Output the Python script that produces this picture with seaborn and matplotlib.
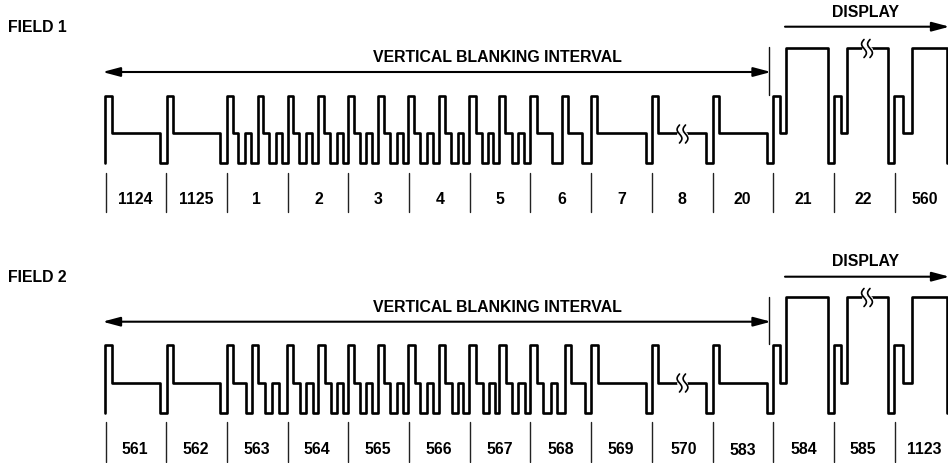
import matplotlib
matplotlib.use("Agg")
import matplotlib.pyplot as plt
import numpy as np
import seaborn as sns

# waveform edges, one level letter per segment between edges
# T = sync tip top, M = mid, L = low, B = display level
field1_edges = [105, 112, 160.5, 167, 173, 220.5, 227.5, 233, 238, 245, 251, 258, 263, 269, 275.7, 281.7,
                288, 293, 299.3, 306, 312.3, 318.3, 324, 330, 336.7, 342.7, 348.5, 354, 360, 366, 372.3,
                377.7, 384, 390, 396.7, 402.7, 408.3, 414, 420, 426.7, 432.7, 439, 445, 451, 457.7, 463.3,
                469.3, 475.7, 481.7, 488.3, 493.3, 499.3, 505, 511.7, 517.7, 524, 530, 536.7, 551.7, 561.7,
                568, 581.7, 591, 597.3, 646, 651.7, 657.7, 705.7, 712.7, 719, 766.7, 772.7, 780, 786,
                827.7, 834, 841, 847, 888, 894, 902.7, 911.7, 947.5]
field1_levels = ("TMLTML" + "TMLML" * 10 + "TML" * 5 + "TM" "BL" "TM" "BL" "TM" "B")

field2_edges = [105, 112, 160.5, 167, 173, 220.5, 227.5, 233, 246, 252.3, 257.7, 265, 271.7, 279, 286.7,
                293.3, 300, 306, 312.7, 318.3, 325, 331, 336.7, 342.7, 348.3, 354, 360, 366, 372.3, 377.7,
                384, 390, 396.7, 403.3, 408.3, 415, 420, 426.7, 433.3, 439, 445, 451.7, 457.7, 463.3,
                469.3, 475.7, 483.3, 489.3, 495, 499.3, 505.7, 511.7, 518.3, 525, 530, 537.3, 543.3, 550.7,
                557.3, 565, 571, 585, 591, 598, 646, 651.7, 658.3, 705.7, 712.7, 719, 766.7, 772.7, 780,
                786, 827.7, 834, 841, 847, 888, 894.3, 903.3, 911.7, 947.5]
field2_levels = ("TMLTML" + "TML" + "TMLML" * 10 + "TML" * 4 + "TM" "BL" "TM" "BL" "TM" "B")

field1_y = {"B": 48.3, "T": 95.7, "M": 133.3, "L": 163.3}
field2_y = {"B": 297.3, "T": 345, "M": 382.5, "L": 412.7}

tick_x = [105.7, 166.3, 227, 287.7, 348.3, 409, 469.7, 530.3, 591.3, 652, 712.7, 773.3, 834, 894.7]

field1_labels = ["1124", "1125", "1", "2", "3", "4", "5", "6", "7", "8", "20", "21", "22", "560"]
field1_label_x = [135.7, 196.7, 256.7, 319.3, 378.3, 440, 500, 561.7, 621.7, 682.3, 742.7, 803.3, 863.3, 925]
field2_labels = ["561", "562", "563", "564", "565", "566", "567", "568", "569", "570", "583", "584", "585", "1123"]
field2_label_x = [135, 195.7, 256.7, 317.3, 378, 439, 499.5, 560.7, 621, 683.3, 742.7, 804, 863.3, 924]

LABEL_SIZE = 11.4


def step_path(edges, levels, level_y):
    xs, ys = [], []
    for i, lev in enumerate(levels):
        xs += [edges[i], edges[i + 1]]
        ys += [level_y[lev], level_y[lev]]
    # first rising edge starts from low, last one falls back to low
    xs = [edges[0]] + xs + [edges[-1]]
    ys = [level_y["L"]] + ys + [level_y["L"]]
    return xs, ys


def arrow(ax, x0, x1, y, style):
    # annotation_clip off, the display arrow ends right on the figure edge
    ax.annotate("", xy=(x1, y), xytext=(x0, y), annotation_clip=False,
                arrowprops=dict(arrowstyle=style + ",head_length=0.75,head_width=0.2",
                                color="black", lw=1.5, shrinkA=0, shrinkB=0, mutation_scale=14))


def squiggle(ax, cx, cy):
    # line break mark: white gap with two small waves
    ax.plot([cx - 3, cx + 3], [cy, cy], color="white", lw=3.5, zorder=4)
    t = np.linspace(-1, 1, 30)
    for dx in (-3, 3):
        ax.plot(cx + dx + 2.4 * np.sin(t * np.pi), cy + t * 9, color="black", lw=1.2, zorder=5)


sns.set_theme(style="white")
plt.rcParams["font.family"] = ["Liberation Sans", "DejaVu Sans"]

fig, ax = plt.subplots(figsize=(9.48, 4.63), dpi=100)
ax.set_position([0, 0, 1, 1])

for edges, levels, level_y in [(field1_edges, field1_levels, field1_y), (field2_edges, field2_levels, field2_y)]:
    xs, ys = step_path(edges, levels, level_y)
    sns.lineplot(x=xs, y=ys, sort=False, estimator=None, color="black", linewidth=1.9,
                 solid_joinstyle="round", ax=ax)

for x in tick_x:
    ax.plot([x, x], [172.7, 212.3], color="#222222", lw=1.0)
    ax.plot([x, x], [422.3, 461.7], color="#222222", lw=1.0)

for name, x in zip(field1_labels, field1_label_x):
    ax.text(x, 200, name, ha="center", va="center", fontsize=LABEL_SIZE, fontweight="bold", color="black")
for name, x in zip(field2_labels, field2_label_x):
    y = 450.3 if name == "583" else 449
    ax.text(x, y, name, ha="center", va="center", fontsize=LABEL_SIZE, fontweight="bold", color="black")

for title, y_field, y_blank, y_blank_arrow, y_disp, y_disp_arrow, y_top, y_bot in [
    ("FIELD 1", 27.3, 57.5, 72, 12.5, 26.7, 47.3, 95),
    ("FIELD 2", 277, 308, 321.7, 261.7, 276.7, 296.7, 344.3),
]:
    ax.text(8, y_field, title, ha="left", va="center", fontsize=LABEL_SIZE, fontweight="bold", color="black")
    ax.text(497, y_blank, "VERTICAL BLANKING INTERVAL", ha="center", va="center", fontsize=LABEL_SIZE,
            fontweight="bold", color="black")
    arrow(ax, 102.5, 771, y_blank_arrow, "<|-|>")
    ax.text(866, y_disp, "DISPLAY", ha="center", va="center", fontsize=LABEL_SIZE, fontweight="bold", color="black")
    arrow(ax, 785, 949.5, y_disp_arrow, "-|>")
    ax.plot([769.3, 769.3], [y_top, y_bot], color="#111111", lw=1.0)

for cx, cy in [(682.5, 134), (867, 48.5), (682.5, 383), (867, 297.5)]:
    squiggle(ax, cx, cy)

ax.set_xlim(0, 948)
ax.set_ylim(463, 0)
ax.axis("off")
fig.savefig("out.png", dpi=100, facecolor="white")
